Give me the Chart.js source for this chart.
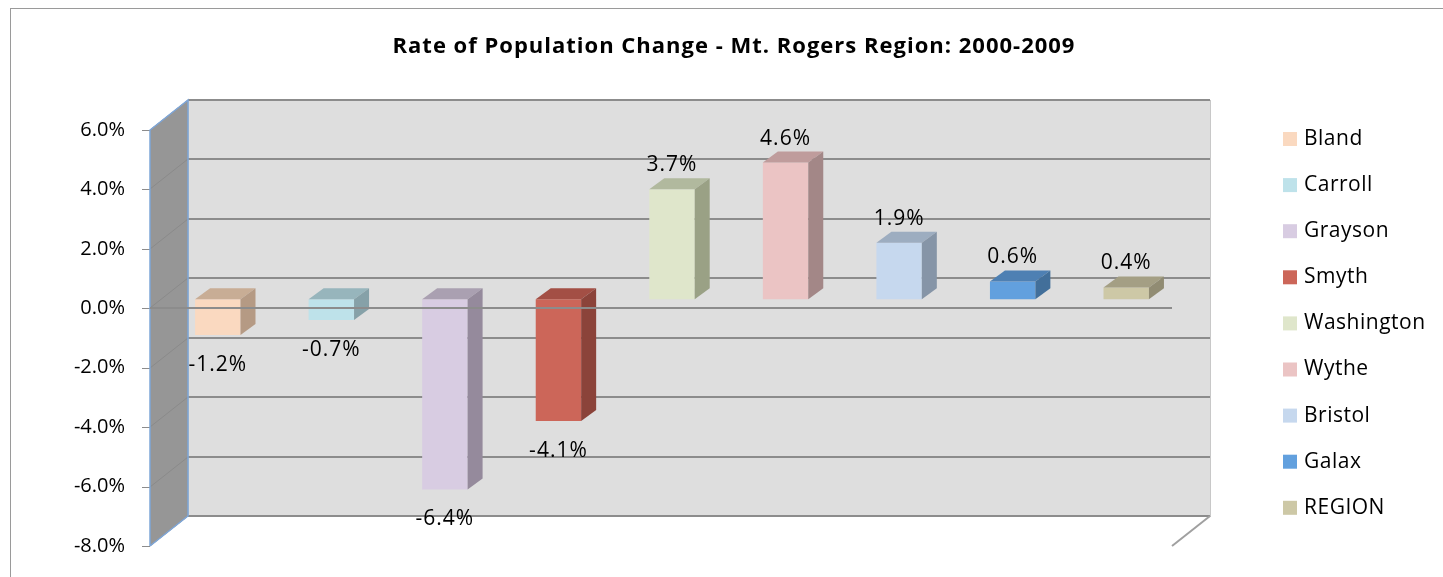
<!DOCTYPE html>
<html>
<head>
<meta charset="utf-8">
<title>Rate of Population Change</title>
<script src="https://cdn.jsdelivr.net/npm/chart.js@4.4.1/dist/chart.umd.min.js"></script>
<style>
  body { margin: 0; background: #fff; }
  #wrap { width: 1443px; height: 577px; }
</style>
</head>
<body>
<div id="wrap"><canvas id="grafico" width="1443" height="577"></canvas></div>
<script>
// datos
const categorias = ['Bland', 'Carroll', 'Grayson', 'Smyth', 'Washington', 'Wythe', 'Bristol', 'Galax', 'REGION'];
const valores = [-1.2, -0.7, -6.4, -4.1, 3.7, 4.6, 1.9, 0.6, 0.4];
const yMin = -8;
const yMax = 6;
const yPaso = 2;

// colores: cara frontal, cara superior, cara lateral
const coloresFrente = ['#FAD9C0', '#BEE2EA', '#D8CCE2', '#CC6659', '#DFE6CB', '#EBC4C4', '#C6D8EE', '#62A0DE', '#CDC8A6'];
const coloresArriba = ['#C8AD95', '#97B5BC', '#AAA0B1', '#A34F45', '#B1B99E', '#BF9C9C', '#9DADC0', '#4E80B3', '#A49F84'];
const coloresLado = ['#B59A84', '#86A1A8', '#958A9C', '#8B433A', '#9AA185', '#A38787', '#8695A7', '#426F9A', '#918C73'];

const titulo = 'Rate of Population Change - Mt. Rogers Region: 2000-2009';
const fuente = "'Open Sans', 'Liberation Sans', sans-serif";

// profundidad de la pared y de las barras
const PARED_X = 38, PARED_Y = 30;
const BARRA_X = 11, BARRA_Y = -9;
const CUBO_X = 15, CUBO_Y = 11;

const efecto3d = {
    id: 'efecto3d',
    beforeDatasetsDraw(chart) {
        const ctx = chart.ctx;
        const a = chart.chartArea;
        const y = chart.scales.y;
        ctx.save();
        // pared del fondo
        ctx.fillStyle = '#DEDEDE';
        ctx.fillRect(a.left + PARED_X, a.top - PARED_Y, a.right - a.left, a.bottom - a.top);
        ctx.strokeStyle = '#C8C8C8';
        ctx.lineWidth = 1;
        ctx.strokeRect(a.left + PARED_X + 0.5, a.top - PARED_Y + 0.5, a.right - a.left, a.bottom - a.top);
        // pared lateral
        ctx.fillStyle = '#969696';
        ctx.beginPath();
        ctx.moveTo(a.left, a.top);
        ctx.lineTo(a.left + PARED_X, a.top - PARED_Y);
        ctx.lineTo(a.left + PARED_X, a.bottom - PARED_Y);
        ctx.lineTo(a.left, a.bottom);
        ctx.closePath();
        ctx.fill();
        // lineas de la grilla
        for (let v = yMin; v <= yMax; v += yPaso) {
            const py = Math.round(y.getPixelForValue(v));
            ctx.strokeStyle = '#8C8C8C';
            ctx.lineWidth = 2;
            ctx.beginPath();
            ctx.moveTo(a.left + PARED_X, py - PARED_Y);
            ctx.lineTo(a.right + PARED_X, py - PARED_Y);
            ctx.stroke();
            ctx.strokeStyle = '#8A8A8A';
            ctx.lineWidth = 1;
            ctx.beginPath();
            ctx.moveTo(a.left, py);
            ctx.lineTo(a.left + PARED_X, py - PARED_Y);
            ctx.stroke();
            ctx.strokeStyle = '#8C8C8C';
            ctx.beginPath();
            ctx.moveTo(a.left - 8, py + 0.5);
            ctx.lineTo(a.left, py + 0.5);
            ctx.stroke();
        }
        // bordes azules de la pared lateral
        ctx.strokeStyle = '#7EA6D8';
        ctx.lineWidth = 1.5;
        ctx.beginPath();
        ctx.moveTo(a.left, a.bottom);
        ctx.lineTo(a.left, a.top);
        ctx.lineTo(a.left + PARED_X, a.top - PARED_Y);
        ctx.lineTo(a.left + PARED_X, a.bottom - PARED_Y);
        ctx.lineTo(a.left, a.bottom);
        ctx.stroke();
        // borde inferior derecho
        ctx.strokeStyle = '#A0A0A0';
        ctx.lineWidth = 2;
        ctx.beginPath();
        ctx.moveTo(a.right, a.bottom);
        ctx.lineTo(a.right + PARED_X, a.bottom - PARED_Y);
        ctx.stroke();
        ctx.restore();

        ctx.save();
        ctx.translate(BARRA_X, BARRA_Y);
    },
    afterDatasetsDraw(chart) {
        const ctx = chart.ctx;
        const meta = chart.getDatasetMeta(0);
        meta.data.forEach((barra, i) => {
            const p = barra.getProps(['x', 'y', 'base', 'width'], true);
            const izq = p.x - p.width / 2;
            const der = p.x + p.width / 2;
            const arriba = Math.min(p.y, p.base);
            const abajo = Math.max(p.y, p.base);
            ctx.fillStyle = coloresArriba[i];
            ctx.beginPath();
            ctx.moveTo(izq, arriba);
            ctx.lineTo(izq + CUBO_X, arriba - CUBO_Y);
            ctx.lineTo(der + CUBO_X, arriba - CUBO_Y);
            ctx.lineTo(der, arriba);
            ctx.closePath();
            ctx.fill();
            ctx.fillStyle = coloresLado[i];
            ctx.beginPath();
            ctx.moveTo(der, arriba);
            ctx.lineTo(der + CUBO_X, arriba - CUBO_Y);
            ctx.lineTo(der + CUBO_X, abajo - CUBO_Y);
            ctx.lineTo(der, abajo);
            ctx.closePath();
            ctx.fill();
        });
        ctx.restore();

        // linea del cero en el plano frontal (pasa delante de las barras)
        const a = chart.chartArea;
        const cero = Math.round(chart.scales.y.getPixelForValue(0));
        ctx.save();
        ctx.strokeStyle = '#8C8C8C';
        ctx.lineWidth = 2;
        ctx.beginPath();
        ctx.moveTo(a.left, cero);
        ctx.lineTo(a.right, cero);
        ctx.stroke();

        // etiquetas de valores
        ctx.fillStyle = '#000';
        ctx.font = '21px ' + fuente;
        ctx.letterSpacing = '1px';
        ctx.textAlign = 'center';
        ctx.textBaseline = 'middle';
        meta.data.forEach((barra, i) => {
            const p = barra.getProps(['x', 'y', 'base'], true);
            const x = p.x + BARRA_X;
            const texto = valores[i].toFixed(1) + '%';
            if (valores[i] >= 0) {
                ctx.fillText(texto, x, p.y + BARRA_Y - 24);
            } else {
                ctx.fillText(texto, x, p.y + BARRA_Y + 30);
            }
        });
        ctx.restore();
    },
    afterDraw(chart) {
        const ctx = chart.ctx;
        ctx.save();
        // marco exterior
        ctx.strokeStyle = '#9A9A9A';
        ctx.lineWidth = 1;
        ctx.strokeRect(10.5, 8.5, 1500, 700);
        // titulo
        ctx.fillStyle = '#000';
        ctx.font = 'bold 22px ' + fuente;
        ctx.letterSpacing = '1px';
        ctx.textAlign = 'center';
        ctx.textBaseline = 'middle';
        ctx.fillText(titulo, 734, 47);
        // leyenda
        ctx.font = '21px ' + fuente;
        ctx.letterSpacing = '0.5px';
        ctx.textAlign = 'left';
        categorias.forEach((nombre, i) => {
            const cy = 139 + i * 46.1;
            ctx.fillStyle = coloresFrente[i];
            ctx.fillRect(1283, cy - 7, 14, 14);
            ctx.fillStyle = '#000';
            ctx.fillText(nombre, 1304, cy);
        });
        ctx.restore();
    }
};

function dibujarGrafico() {
    const ctx = document.getElementById('grafico').getContext('2d');
    new Chart(ctx, {
        type: 'bar',
        data: {
            labels: categorias,
            datasets: [{
                label: 'Rate of Population Change',
                data: valores,
                backgroundColor: coloresFrente,
                borderWidth: 0,
                barPercentage: 0.4,
                categoryPercentage: 1
            }]
        },
        options: {
            responsive: false,
            animation: false,
            layout: { padding: { top: 130, right: 271, bottom: 31, left: 0 } },
            scales: {
                x: { display: false, offset: true },
                y: {
                    min: yMin,
                    max: yMax,
                    afterFit(scale) {
                        scale.width = 150;
                        scale.paddingTop = 0;
                        scale.paddingBottom = 0;
                    },
                    grid: { display: false, drawTicks: false },
                    border: { display: false },
                    ticks: {
                        stepSize: yPaso,
                        padding: 25,
                        color: '#000',
                        font: { family: fuente, size: 20 },
                        callback: v => v.toFixed(1) + '%'
                    }
                }
            },
            plugins: {
                legend: { display: false },
                title: { display: false },
                tooltip: { enabled: false }
            }
        },
        plugins: [efecto3d]
    });
}

dibujarGrafico();
</script>
</body>
</html>
